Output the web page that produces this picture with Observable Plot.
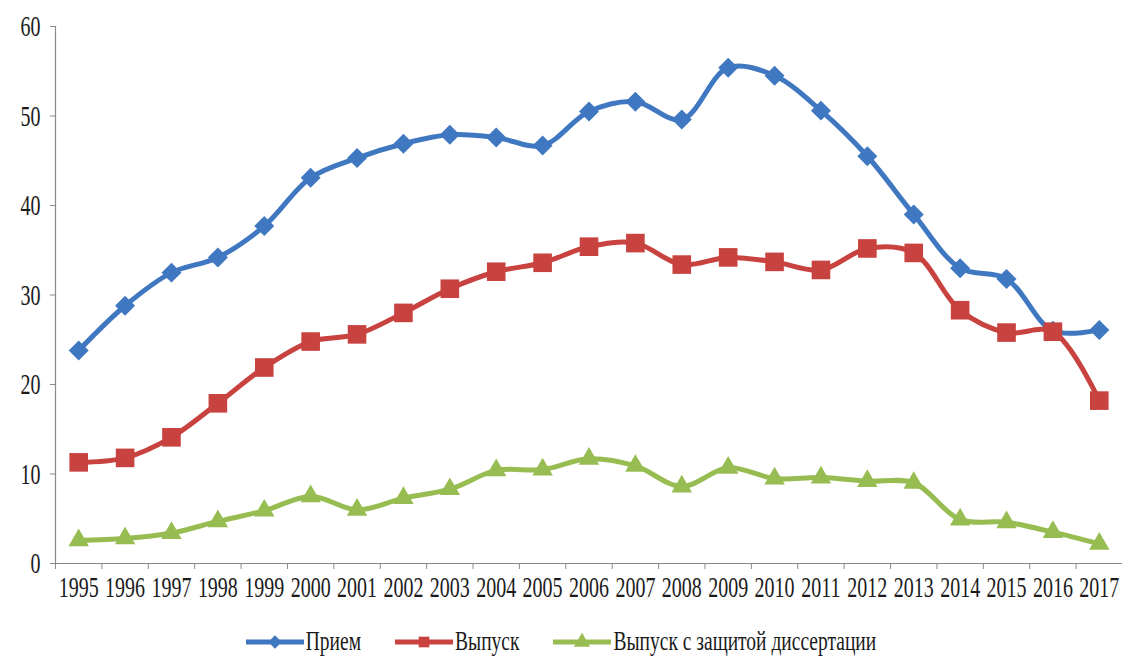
<!DOCTYPE html>
<html>
<head>
<meta charset="utf-8">
<script src="https://cdn.jsdelivr.net/npm/d3@7"></script>
<script src="https://cdn.jsdelivr.net/npm/@observablehq/plot@0.6"></script>
<style>
  html, body { margin: 0; padding: 0; background: #fff; }
  #chart { width: 1122px; }
  #legend { width: 1122px; height: 61px; display: flex; justify-content: center; align-items: flex-start; padding-top: 30px; box-sizing: border-box;
    font-family: "Liberation Serif", Tinos, "Times New Roman", serif; font-size: 19.5px; color: #1a1a1a; }
  .item { display: flex; align-items: center; margin: 0 17px; height: 24px; }
  .item svg { display: block; margin-right: 2px; }
  .item span { display: inline-block; transform: scaleY(1.45); transform-origin: 50% 55%; }
  #chart svg text { font-family: "Liberation Serif", Tinos, "Times New Roman", serif; }
</style>
</head>
<body>
<div id="chart"></div>
<div id="legend"></div>
<script>
const years = [1995,1996,1997,1998,1999,2000,2001,2002,2003,2004,2005,2006,2007,2008,2009,2010,2011,2012,2013,2014,2015,2016,2017];
const priem   = [23.8, 28.8, 32.5, 34.2, 37.7, 43.1, 45.3, 46.9, 47.9, 47.6, 46.7, 50.5, 51.6, 49.6, 55.4, 54.5, 50.6, 45.5, 39.0, 33.0, 31.8, 26.0, 26.1];
const vypusk  = [11.3, 11.8, 14.1, 17.9, 21.9, 24.8, 25.6, 28.0, 30.7, 32.6, 33.6, 35.4, 35.8, 33.4, 34.2, 33.7, 32.8, 35.2, 34.7, 28.3, 25.8, 25.9, 18.2];
const zaschita = [2.6, 2.8, 3.4, 4.7, 5.9, 7.5, 6.0, 7.3, 8.3, 10.4, 10.5, 11.7, 10.9, 8.6, 10.7, 9.5, 9.6, 9.2, 9.0, 4.9, 4.6, 3.5, 2.2];
const seriesNames = ["Прием", "Выпуск", "Выпуск с защитой диссертации"];
const seriesColors = ["#3f78c0", "#c8423f", "#97bd52"];
const seriesSymbols = ["diamond2", "square", "triangle"];
const seriesR = [9, 10.5, 7.6];
const yTicks = [0, 10, 20, 30, 40, 50, 60];

const tables = [priem, vypusk, zaschita].map((vals, i) => years.map((y, j) => ({year: y, value: vals[j], series: seriesNames[i]})));
const bounds = d3.range(years.length + 1).map(i => years[0] - 0.5 + i);

const font = '"Liberation Serif", Tinos, "Times New Roman", serif';
const axisColor = "#8a8a8a";

const marks = [
  Plot.ruleX([years[0] - 0.5], {stroke: axisColor, strokeWidth: 1.2}),
  Plot.ruleY([0], {stroke: axisColor, strokeWidth: 1.2}),
  Plot.axisY({ticks: yTicks, tickSize: 5, tickPadding: 10, stroke: axisColor, fill: "#1a1a1a", fontSize: 20, label: null}),
  Plot.axisX({ticks: bounds, tickSize: 6, tickFormat: () => "", stroke: axisColor, label: null}),
  Plot.axisX({ticks: years, tickSize: 0, tickPadding: 16, tickFormat: d => String(d), fill: "#1a1a1a", fontSize: 20, label: null})
];
tables.forEach((t, i) => {
  marks.push(Plot.line(t, {x: "year", y: "value", stroke: seriesColors[i], strokeWidth: 5, curve: "catmull-rom"}));
  marks.push(Plot.dot(t, {x: "year", y: "value", fill: seriesColors[i], stroke: "none", symbol: seriesSymbols[i], r: seriesR[i]}));
});

const chart = Plot.plot({
  width: 1122,
  height: 600,
  marginLeft: 55,
  marginRight: 0,
  marginTop: 26,
  marginBottom: 37,
  style: {fontFamily: font, background: "#fff", overflow: "visible"},
  x: {domain: [years[0] - 0.5, years[years.length - 1] + 0.5], axis: null},
  y: {domain: [0, 60], axis: null},
  marks
});
document.getElementById("chart").appendChild(chart);

// Reference text is drawn vertically stretched: stretch tick labels about their own vertical centre.
d3.select(chart).selectAll("text").each(function() {
  if (!this.textContent) return;
  const b = this.getBBox();
  const cy = b.y + b.height / 2;
  const t = this.getAttribute("transform") || "";
  this.setAttribute("transform", `${t} translate(0,${cy}) scale(1,1.5) translate(0,${-cy})`.trim());
});

const legend = d3.select("#legend");
seriesNames.forEach((name, i) => {
  const item = legend.append("div").attr("class", "item");
  const svg = item.append("svg").attr("width", 58).attr("height", 24);
  svg.append("line").attr("x1", 0).attr("x2", 58).attr("y1", 12).attr("y2", 12)
    .attr("stroke", seriesColors[i]).attr("stroke-width", 5);
  const symType = [d3.symbolDiamond2, d3.symbolSquare, d3.symbolTriangle][i];
  svg.append("path").attr("transform", "translate(29,12)")
    .attr("d", d3.symbol(symType, Math.PI * 6 * 6)())
    .attr("fill", seriesColors[i]);
  item.append("span").text(name);
});
</script>
</body>
</html>
